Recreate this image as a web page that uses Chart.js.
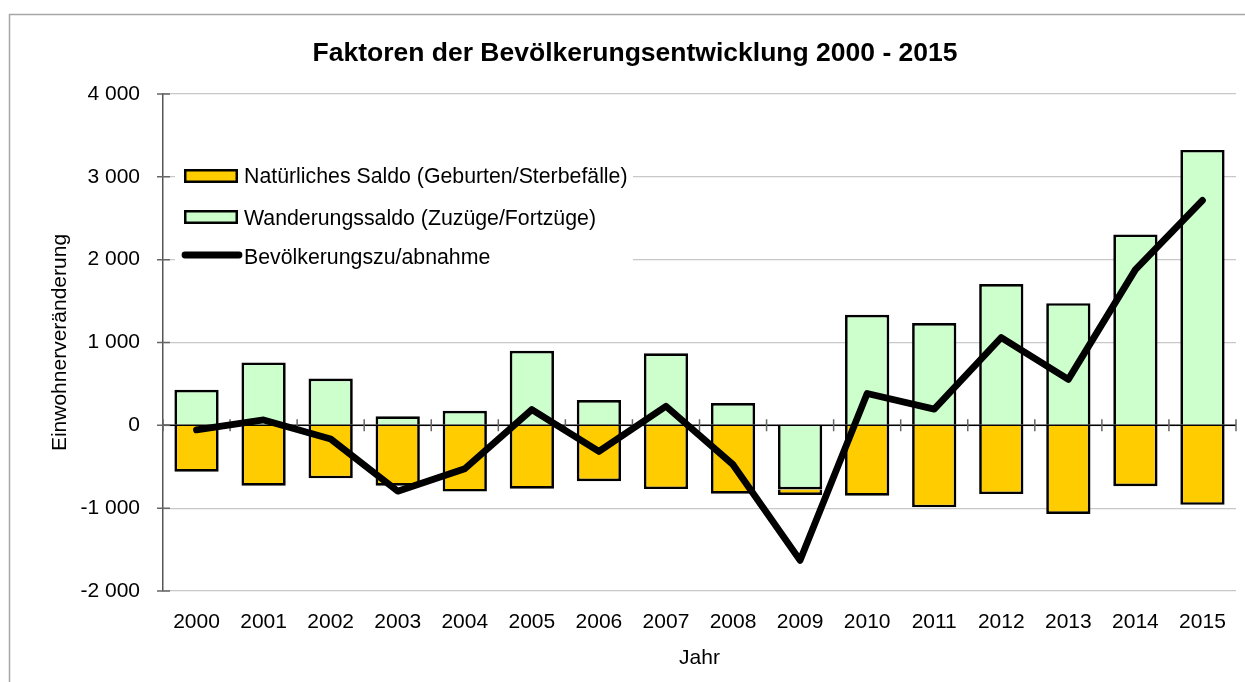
<!DOCTYPE html>
<html lang="de">
<head>
<meta charset="utf-8">
<title>Faktoren der Bevölkerungsentwicklung 2000 - 2015</title>
<script src="https://cdn.jsdelivr.net/npm/chart.js@4.4.1/dist/chart.umd.min.js"></script>
<style>
  html, body { margin: 0; padding: 0; background: #fff; }
  #wrap { width: 1245px; height: 682px; }
  canvas { background: #fff; display: block; }
</style>
</head>
<body>
<div id="wrap"><canvas id="chart" width="1245" height="682"></canvas></div>
<script>
// --- Daten ---
const jahre = ['2000', '2001', '2002', '2003', '2004', '2005', '2006', '2007',
               '2008', '2009', '2010', '2011', '2012', '2013', '2014', '2015'];
const wanderungssaldo = [430, 760, 565, 110, 175, 900, 305, 870,
                         270, -775, 1335, 1235, 1705, 1475, 2305, 3325];
const natuerlichesSaldo = [-560, -730, -640, -730, -800, -765, -675, -770,
                           -825, -65, -850, -990, -830, -1070, -735, -960];
const bevoelkerung = [-55, 65, -165, -795, -525, 190, -315, 230,
                      -475, -1630, 385, 195, 1060, 555, 1880, 2715];
const yTicks = [-2000, -1000, 0, 1000, 2000, 3000, 4000];

const titel = 'Faktoren der Bevölkerungsentwicklung 2000 - 2015';
const FONT = '"Liberation Sans", Arial, sans-serif';

// Zahl mit Leerzeichen als Tausendertrenner ("4 000")
function fmt(v) {
    const s = Math.abs(v).toString().replace(/\B(?=(\d{3})+(?!\d))/g, ' ');
    return (v < 0 ? '-' : '') + s;
}

// Rahmen + Titel
const rahmen = {
    id: 'rahmen',
    beforeDraw(chart) {
        const ctx = chart.ctx;
        ctx.save();
        ctx.strokeStyle = '#a6a6a6';
        ctx.lineWidth = 1.5;
        ctx.strokeRect(9.5, 14.5, 1400, 900);
        ctx.fillStyle = '#000';
        ctx.font = 'bold 26.5px ' + FONT;
        ctx.textAlign = 'center';
        ctx.textBaseline = 'alphabetic';
        ctx.fillText(titel, 635, 61);
        ctx.restore();
    }
};

// Legende im Diagramm (weißer Kasten links oben)
const legende = {
    id: 'legende',
    beforeDatasetsDraw(chart) {
        const ctx = chart.ctx;
        const ds = chart.data.datasets;
        ctx.save();
        ctx.fillStyle = '#fff';
        ctx.fillRect(175, 150, 458, 125);
        ctx.font = '21.3px ' + FONT;
        ctx.textAlign = 'left';
        ctx.textBaseline = 'alphabetic';

        // Box-Einträge: natürliches Saldo, Wanderungssaldo
        [[ds[1], 169, 183.3], [ds[0], 210, 225]].forEach(([d, y, base]) => {
            ctx.fillStyle = '#000';
            ctx.fillRect(184, y, 54, 14);
            ctx.fillStyle = d.backgroundColor;
            ctx.fillRect(186.5, y + 2.5, 49, 9);
            ctx.fillStyle = '#000';
            ctx.fillText(d.label, 244, base);
        });

        // Linien-Eintrag
        ctx.strokeStyle = ds[2].borderColor;
        ctx.lineWidth = 6.8;
        ctx.lineCap = 'round';
        ctx.beginPath();
        ctx.moveTo(185, 255);
        ctx.lineTo(239, 255);
        ctx.stroke();
        ctx.fillStyle = '#000';
        ctx.fillText(ds[2].label, 244, 264.3);
        ctx.restore();
    }
};

// Nulllinie + Teilstriche (über den Balken, unter der Linie)
const achsen = {
    id: 'achsen',
    afterDatasetDraw(chart, args) {
        if (args.index !== 0) return;
        const {ctx, chartArea: a, scales: {y}} = chart;
        const y0 = y.getPixelForValue(0);
        ctx.save();
        ctx.strokeStyle = '#000';
        ctx.lineWidth = 1.5;
        ctx.beginPath();
        ctx.moveTo(a.left, y0);
        ctx.lineTo(a.right, y0);
        ctx.stroke();

        ctx.strokeStyle = '#666';
        ctx.lineWidth = 1.5;
        const n = jahre.length;
        ctx.beginPath();
        for (let i = 0; i <= n; i++) {
            const px = a.left + (a.right - a.left) * i / n;
            ctx.moveTo(px, y0 - 6);
            ctx.lineTo(px, y0 + 6);
        }
        yTicks.forEach(v => {
            const py = y.getPixelForValue(v);
            ctx.moveTo(a.left - 6, py);
            ctx.lineTo(a.left + 7, py);
        });
        ctx.stroke();
        ctx.restore();
    }
};

new Chart(document.getElementById('chart'), {
    type: 'bar',
    data: {
        labels: jahre,
        datasets: [
            {
                label: 'Wanderungssaldo (Zuzüge/Fortzüge)',
                data: wanderungssaldo,
                backgroundColor: '#CCFFCC',
                borderColor: '#000',
                borderWidth: 2.7,
                borderSkipped: 'start',
                stack: 'saldo',
                barPercentage: 0.66,
                categoryPercentage: 1
            },
            {
                label: 'Natürliches Saldo (Geburten/Sterbefälle)',
                data: natuerlichesSaldo,
                backgroundColor: '#FFCC00',
                borderColor: '#000',
                borderWidth: 2.7,
                borderSkipped: 'start',
                stack: 'saldo',
                barPercentage: 0.66,
                categoryPercentage: 1
            },
            {
                type: 'line',
                label: 'Bevölkerungszu/abnahme',
                data: bevoelkerung,
                borderColor: '#000',
                backgroundColor: '#000',
                borderWidth: 6.8,
                pointRadius: 0,
                tension: 0,
                borderCapStyle: 'round',
                borderJoinStyle: 'round',
                stack: 'linie',
                order: -1
            }
        ]
    },
    options: {
        responsive: false,
        animation: false,
        layout: { padding: { top: 94, right: 9, left: 0, bottom: 0 } },
        plugins: {
            legend: { display: false },
            title: { display: false },
            tooltip: { enabled: false }
        },
        scales: {
            x: {
                stacked: true,
                offset: true,
                grid: { display: false, drawTicks: false },
                border: { display: false },
                ticks: { color: '#000', font: { family: FONT, size: 21 }, padding: 18.4, maxRotation: 0 },
                title: {
                    display: true, text: 'Jahr', color: '#000',
                    font: { family: FONT, size: 21 }, padding: { top: 0, bottom: 11 }
                },
                afterFit(s) { s.height = 91; }
            },
            y: {
                stacked: true,
                min: -2000,
                max: 4000,
                afterBuildTicks(s) { s.ticks = yTicks.map(v => ({ value: v })); },
                grid: {
                    drawTicks: false,
                    color: '#c8c8c8',
                    lineWidth: 1.2
                },
                border: { display: true, color: '#555', width: 1.5 },
                ticks: { color: '#000', font: { family: FONT, size: 21 }, padding: 23, callback: v => fmt(v) },
                title: {
                    display: true, text: 'Einwohnerveränderung', color: '#000',
                    font: { family: FONT, size: 21 }, padding: { top: 47.4, bottom: 0 }
                },
                afterFit(s) { s.width = 163; }
            }
        }
    },
    plugins: [rahmen, legende, achsen]
});
</script>
</body>
</html>
